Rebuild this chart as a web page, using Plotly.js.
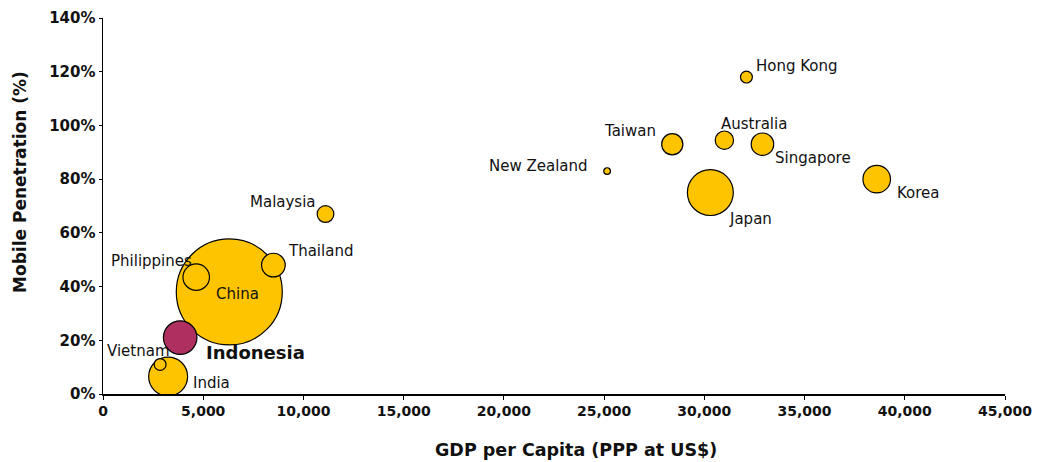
<!DOCTYPE html>
<html>
<head>
<meta charset="utf-8">
<script src="https://cdn.plot.ly/plotly-3.0.1.min.js"></script>
<style>
  html, body { margin: 0; padding: 0; background: #fff; }
  #chart { width: 1047px; height: 462px; }
</style>
</head>
<body>
<div id="chart"></div>
<script>
// Mobile penetration vs. GDP per capita, bubble area = relative market size
const countries = ["China", "Japan", "India", "Indonesia", "Korea", "Philippines", "Thailand",
                   "Singapore", "Taiwan", "Australia", "Malaysia", "Hong Kong", "Vietnam", "New Zealand"];
const gdpPerCapita = [6300, 30300, 3250, 3850, 38600, 4650, 8500,
                      32900, 28400, 31000, 11100, 32100, 2850, 25150];
const penetration = [38, 75, 6.5, 21, 80, 43.5, 48,
                     93, 93, 94.5, 67, 118, 11, 83];
const marketSize = [400, 75, 54, 40, 27, 25, 20,
                    18, 16, 12, 10, 5, 5, 1.6];
const highlighted = "Indonesia";
const xTitle = "GDP per Capita (PPP at US$)";
const yTitle = "Mobile Penetration (%)";

// label placement (pixel offsets from each bubble centre)
const labelStyle = {
  "China":       {dx: 8,   dy: 2,   anchor: "center"},
  "Japan":       {dx: 17,  dy: 26,  anchor: "left"},
  "India":       {dx: 23,  dy: 6,   anchor: "left"},
  "Indonesia":   {dx: 24,  dy: 15,  anchor: "left"},
  "Korea":       {dx: 18,  dy: 14,  anchor: "left"},
  "Philippines": {dx: -2,  dy: -16, anchor: "right"},
  "Thailand":    {dx: 13,  dy: -14, anchor: "left"},
  "Singapore":   {dx: 11,  dy: 14,  anchor: "left"},
  "Taiwan":      {dx: -14, dy: -13, anchor: "right"},
  "Australia":   {dx: -5,  dy: -16, anchor: "left"},
  "Malaysia":    {dx: -7,  dy: -12, anchor: "right"},
  "Hong Kong":   {dx: 8,   dy: -11, anchor: "left"},
  "Vietnam":     {dx: 12,  dy: -13, anchor: "right"},
  "New Zealand": {dx: -17, dy: -5,  anchor: "right"}
};

const YELLOW = "#FFC400";
const MAROON = "#AE2F60";
const maxDiameter = 106;

const trace = {
  type: "scatter",
  mode: "markers",
  x: gdpPerCapita,
  y: penetration,
  hoverinfo: "skip",
  marker: {
    size: marketSize,
    sizemode: "area",
    // plotly's area mode: diameter = sqrt(2 * size / sizeref)
    sizeref: 2 * Math.max(...marketSize) / (maxDiameter * maxDiameter),
    sizemin: 1,
    color: countries.map(c => c === highlighted ? MAROON : YELLOW),
    opacity: 1,
    line: {color: "#000", width: 1.2}
  }
};

const annotations = countries.map((c, i) => {
  const s = labelStyle[c];
  const bold = c === highlighted;
  return {
    x: gdpPerCapita[i], y: penetration[i], xref: "x", yref: "y",
    text: bold ? "<b>" + c + "</b>" : c,
    showarrow: false,
    xanchor: s.anchor, yanchor: "middle",
    xshift: s.dx, yshift: -s.dy,
    font: {family: "DejaVu Sans", size: bold ? 18 : 15, color: "#111"}
  };
});

// axis titles
annotations.push({
  xref: "paper", yref: "paper", x: 0.524, y: -0.149,
  text: "<b>" + xTitle + "</b>", showarrow: false,
  xanchor: "center", yanchor: "middle",
  font: {family: "DejaVu Sans", size: 17.5, color: "#111"}
});
annotations.push({
  xref: "paper", yref: "paper", x: -0.092, y: 0.564,
  text: "<b>" + yTitle + "</b>", showarrow: false, textangle: -90,
  xanchor: "center", yanchor: "middle",
  font: {family: "DejaVu Sans", size: 17, color: "#111"}
});

const layout = {
  width: 1047, height: 462,
  margin: {l: 103, r: 42, t: 18, b: 68},
  paper_bgcolor: "#fff", plot_bgcolor: "#fff",
  showlegend: false,
  font: {family: "DejaVu Sans", color: "#111"},
  xaxis: {
    range: [0, 45000], dtick: 5000, tickformat: ",d",
    showgrid: false, zeroline: false,
    showline: true, linecolor: "#000", linewidth: 1.5,
    ticks: "outside", ticklen: 4, tickcolor: "#000",
    tickfont: {family: "DejaVu Sans", size: 14, weight: "bold", color: "#111"}
  },
  yaxis: {
    range: [0, 140], dtick: 20, ticksuffix: "%",
    showgrid: false, zeroline: false,
    showline: true, linecolor: "#000", linewidth: 1.5,
    ticks: "outside", ticklen: 3, tickcolor: "#000",
    tickfont: {family: "DejaVu Sans", size: 15, weight: "bold", color: "#111"}
  },
  annotations: annotations
};

Plotly.newPlot("chart", [trace], layout, {displayModeBar: false, staticPlot: true});
</script>
</body>
</html>
